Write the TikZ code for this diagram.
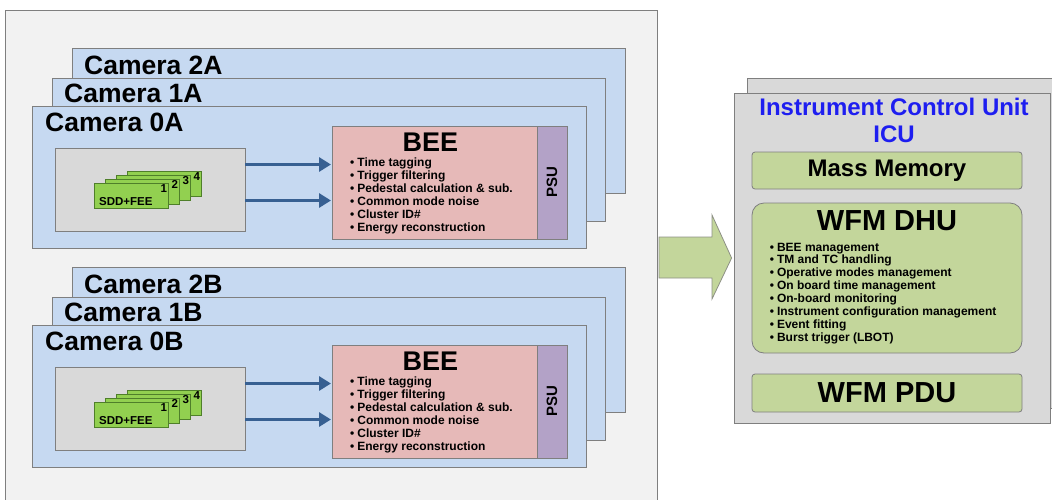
\documentclass[tikz,border=0pt]{standalone}
\usepackage{fontspec}
\setmainfont{Liberation Sans}
\usetikzlibrary{arrows.meta,positioning,calc}

\definecolor{panelfill}{HTML}{F2F2F2}
\definecolor{edgegray}{HTML}{7F7F7F}
\definecolor{camfill}{HTML}{C6D9F1}
\definecolor{boxgray}{HTML}{D9D9D9}
\definecolor{beefill}{HTML}{E6B9B8}
\definecolor{psufill}{HTML}{B3A2C7}
\definecolor{cardgreen}{HTML}{92D050}
\definecolor{carddark}{HTML}{4F7F2A}
\definecolor{linkblue}{HTML}{376092}
\definecolor{sagegreen}{HTML}{C3D69B}
\definecolor{icublue}{HTML}{1E1EF0}

\tikzset{
  panel/.style={draw=edgegray, fill=panelfill, line width=0.8pt},
  camera/.style={draw=edgegray, fill=camfill, line width=0.8pt},
  camlabel/.style={anchor=base west, inner sep=0pt, font=\bfseries\fontsize{26.5}{30}\selectfont},
  feebox/.style={draw=edgegray, fill=boxgray, line width=0.8pt, minimum width=190pt, minimum height=83pt, inner sep=0pt, outer sep=0pt},
  card/.style={draw=carddark, fill=cardgreen, line width=0.8pt, minimum width=74pt, minimum height=25pt, inner sep=0pt, anchor=north west},
  cardnum/.style={anchor=north east, inner sep=1.5pt, font=\bfseries\fontsize{11.5}{12}\selectfont},
  cardlabel/.style={anchor=south west, inner sep=0pt, font=\bfseries\fontsize{11.5}{12}\selectfont},
  beebox/.style={draw=edgegray, fill=beefill, line width=0.8pt, minimum width=205pt, minimum height=113pt, inner sep=0pt, outer sep=0pt},
  psubox/.style={draw=edgegray, fill=psufill, line width=0.8pt, minimum width=30pt, minimum height=113pt, inner sep=0pt, outer sep=0pt},
  beetitle/.style={inner sep=0pt, font=\bfseries\fontsize{27}{30}\selectfont},
  beelist/.style={anchor=north west, inner sep=0pt, align=left, font=\bfseries\fontsize{12}{13}\selectfont},
  link/.style={draw=linkblue, line width=3pt, -{Triangle[length=12pt,width=14pt]}, shorten >=1pt},
  bigarrow/.style={draw=edgegray!80!sagegreen, fill=sagegreen, line width=0.8pt},
  icubox/.style={draw=edgegray, fill=boxgray, line width=0.8pt, inner sep=0pt},
  icutitle/.style={text=icublue, align=center, font=\bfseries\fontsize{24}{27}\selectfont},
  greenbox/.style={draw=edgegray, fill=sagegreen, line width=0.8pt, minimum width=270pt, inner sep=0pt},
  bigtext/.style={font=\bfseries\fontsize{29}{32}\selectfont},
  dhulist/.style={anchor=north west, inner sep=0pt, align=left, font=\bfseries\fontsize{12}{12.9}\selectfont}
}

% one stack of three cameras, #1 = A/B, #2 = shift down
\newcommand{\camstack}[2]{%
  \begin{scope}[shift={(0,#2)}]
    \draw[camera] (72,48) rectangle (625,193);
    \node[camlabel] at (84,74) {Camera 2#1};
    \draw[camera] (52,78) rectangle (605,221);
    \node[camlabel] at (64,102) {Camera 1#1};
    \draw[camera] (32,106) rectangle (586,248);
    \node[camlabel] at (45,131) {Camera 0#1};

    \node[feebox] (fee#1) at (150,189.5) {};
    \node[card] (c4#1) at (127,170.5) {};
    \node[cardnum] at (c4#1.north east) {4};
    \node[card] (c3#1) at (116,174.8) {};
    \node[cardnum] at (c3#1.north east) {3};
    \node[card] (c2#1) at (105,179) {};
    \node[cardnum] at (c2#1.north east) {2};
    \node[card] (c1#1) at (94,183.3) {};
    \node[cardnum] at (c1#1.north east) {1};
    \node[cardlabel] at ($(c1#1.south west)+(5,-3)$) {SDD+FEE};

    \node[beebox] (bee#1) at (434.5,182.5) {};
    \node[psubox, right=0pt of bee#1] (psu#1) {};
    \node[rotate=90, inner sep=0pt, font=\bfseries\fontsize{15}{16}\selectfont] at (psu#1.center) {PSU};
    \node[beetitle] at ($(bee#1.north)+(-4,16)$) {BEE};
    \node[beelist] at ($(bee#1.north west)+(18,31.5)$) {%
      \textbullet\hspace{3pt}Time tagging\\
      \textbullet\hspace{3pt}Trigger filtering\\
      \textbullet\hspace{3pt}Pedestal calculation \& sub.\\
      \textbullet\hspace{3pt}Common mode noise\\
      \textbullet\hspace{3pt}Cluster ID\#\\
      \textbullet\hspace{3pt}Energy reconstruction};

    \draw[link] ([yshift=18pt]bee#1.west -| fee#1.east) -- ([yshift=18pt]bee#1.west);
    \draw[link] ([yshift=-18pt]bee#1.west -| fee#1.east) -- ([yshift=-18pt]bee#1.west);
  \end{scope}}

\begin{document}
\begin{tikzpicture}[x=1pt, y=-1pt]
  \useasboundingbox (0,0) rectangle (1052,499);

  % cameras
  \draw[panel] (5,10) rectangle (657,510);
  \camstack{A}{0}
  \camstack{B}{219}

  % ICU
  \draw[icubox] (747,78) rectangle (1070,408);
  \node[icubox, minimum width=316pt, minimum height=330pt] (icu) at (892,258) {};
  \node[icutitle] (icuname) at (894,120.5) {Instrument Control Unit\\ICU};

  \node[greenbox, minimum height=37pt, rounded corners=3pt, font=\bfseries\fontsize{24}{26}\selectfont] (mem) at (887,170.5) {Mass Memory};
  \node[greenbox, minimum height=150pt, rounded corners=12pt] (dhu) at (887,278) {};
  \node[bigtext] at ($(dhu.north)+(0,18)$) {WFM DHU};
  \node[dhulist] at ($(dhu.north west)+(18,40)$) {%
    \textbullet\hspace{3pt}BEE management\\
    \textbullet\hspace{3pt}TM and TC handling\\
    \textbullet\hspace{3pt}Operative modes management\\
    \textbullet\hspace{3pt}On board time management\\
    \textbullet\hspace{3pt}On-board monitoring\\
    \textbullet\hspace{3pt}Instrument configuration management\\
    \textbullet\hspace{3pt}Event fitting\\
    \textbullet\hspace{3pt}Burst trigger (LBOT)};
  \node[greenbox, minimum height=38pt, rounded corners=3pt, bigtext] (pdu) at (887,393) {WFM PDU};

  % data flow to ICU
  \draw[bigarrow] (659,237) -- (712,237) -- (712,215) -- ($(icu.west)+(-2,0)$)
    -- (712,299) -- (712,278) -- (659,278) -- cycle;
\end{tikzpicture}
\end{document}
